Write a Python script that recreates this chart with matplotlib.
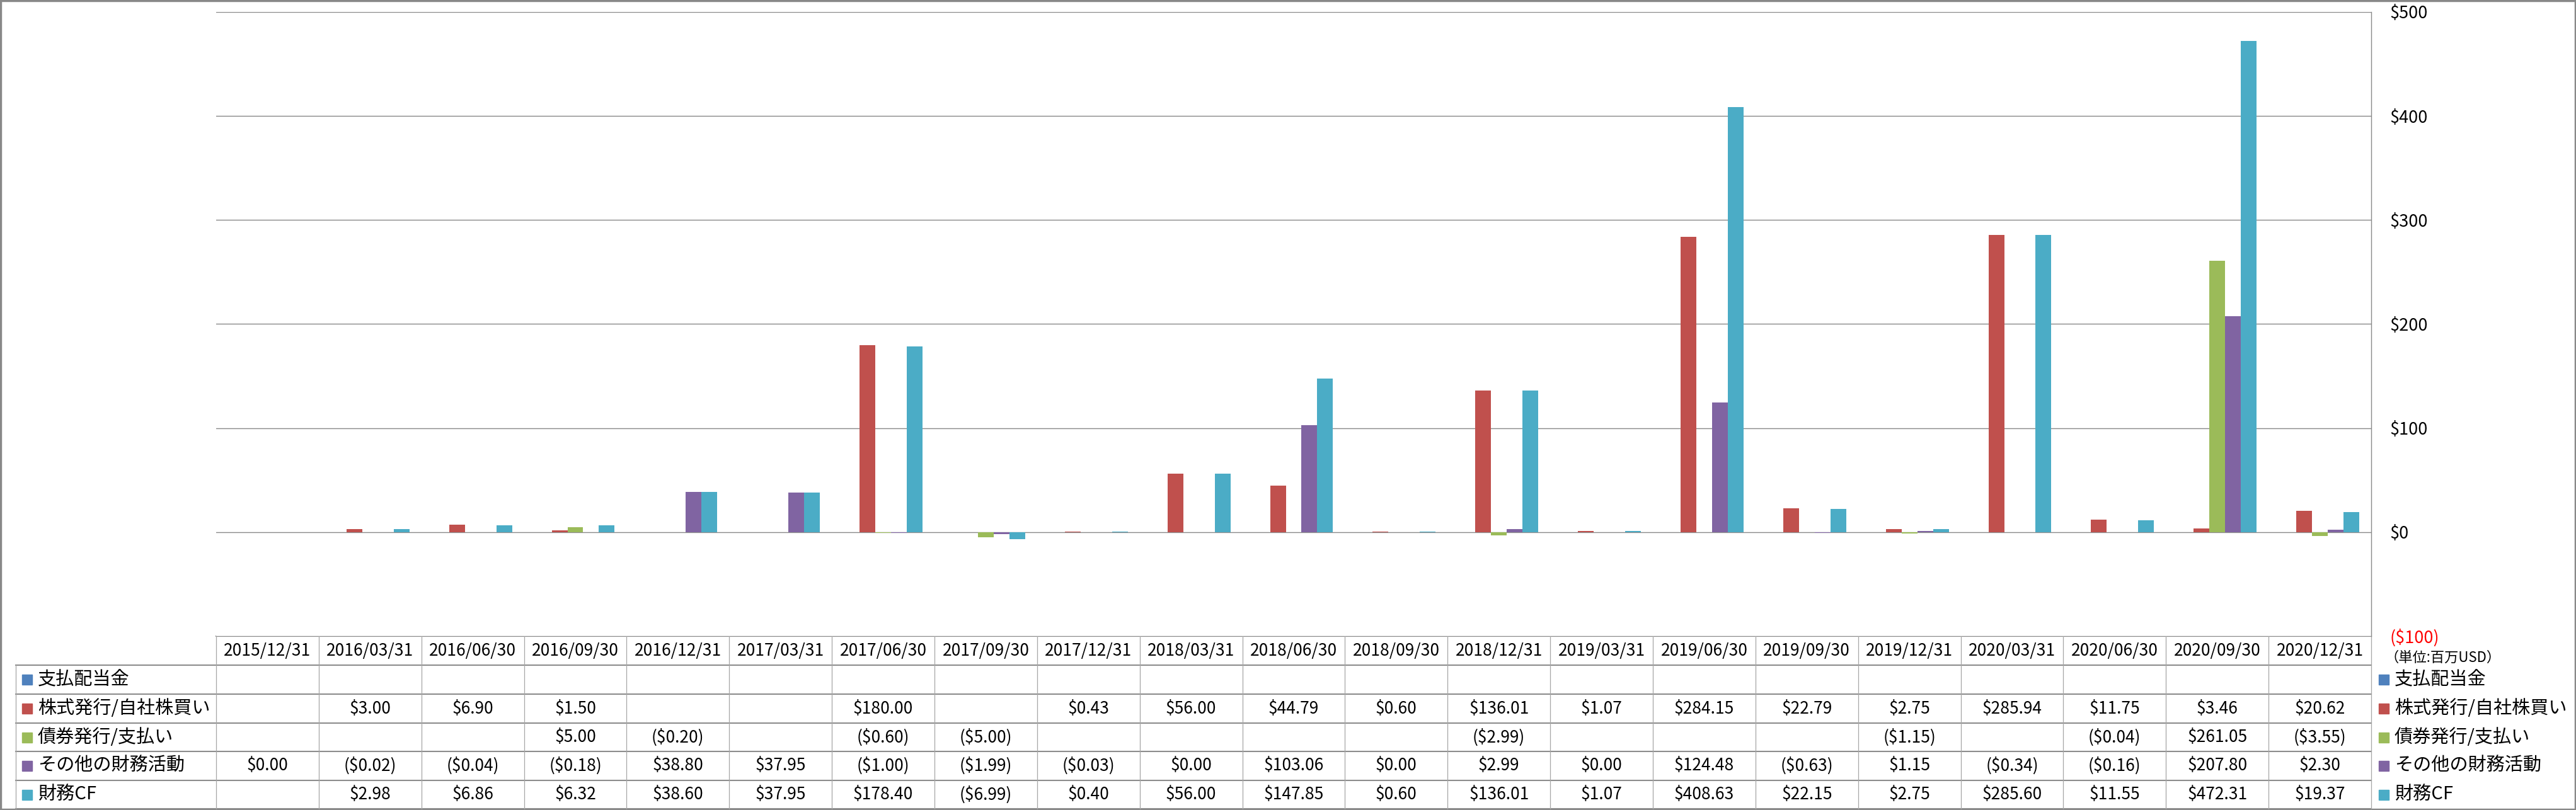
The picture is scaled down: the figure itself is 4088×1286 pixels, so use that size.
import numpy as np
import matplotlib.pyplot as plt
from matplotlib.patches import Rectangle

plt.rcParams['font.family'] = ['Noto Sans CJK JP', 'DejaVu Sans']

nan = np.nan

dates = ['2015/12/31', '2016/03/31', '2016/06/30', '2016/09/30', '2016/12/31',
         '2017/03/31', '2017/06/30', '2017/09/30', '2017/12/31', '2018/03/31',
         '2018/06/30', '2018/09/30', '2018/12/31', '2019/03/31', '2019/06/30',
         '2019/09/30', '2019/12/31', '2020/03/31', '2020/06/30', '2020/09/30',
         '2020/12/31']

names = ['支払配当金', '株式発行/自社株買い', '債券発行/支払い', 'その他の財務活動', '財務CF']
colors = ['#4F81BD', '#C0504D', '#9BBB59', '#8064A2', '#4BACC6']

dividends = [nan] * 21
stock = [nan, 3.00, 6.90, 1.50, nan, nan, 180.00, nan, 0.43, 56.00, 44.79,
         0.60, 136.01, 1.07, 284.15, 22.79, 2.75, 285.94, 11.75, 3.46, 20.62]
debt = [nan, nan, nan, 5.00, -0.20, nan, -0.60, -5.00, nan, nan, nan,
        nan, -2.99, nan, nan, nan, -1.15, nan, -0.04, 261.05, -3.55]
other = [0.00, -0.02, -0.04, -0.18, 38.80, 37.95, -1.00, -1.99, -0.03, 0.00, 103.06,
         0.00, 2.99, 0.00, 124.48, -0.63, 1.15, -0.34, -0.16, 207.80, 2.30]
fcf = [nan, 2.98, 6.86, 6.32, 38.60, 37.95, 178.40, -6.99, 0.40, 56.00, 147.85,
       0.60, 136.01, 1.07, 408.63, 22.15, 2.75, 285.60, 11.55, 472.31, 19.37]
series = [dividends, stock, debt, other, fcf]

yticks = [-100, 0, 100, 200, 300, 400, 500]


def money(v):
    if np.isnan(v):
        return ''
    if v < 0:
        return '(${:,.2f})'.format(-v)
    return '${:,.2f}'.format(v)


def tick_money(v):
    return '(${})'.format(-v) if v < 0 else '${}'.format(v)


W, H = 4088, 1286
fig = plt.figure(figsize=(W / 100, H / 100), dpi=100)

# plot area (pixels)
L, R, T, B = 343, 3763, 19, 1010
ax = fig.add_axes([L / W, 1 - B / H, (R - L) / W, (B - T) / H])

n = len(dates)
x = np.arange(n)
bw = 25 / 163
for i, vals in enumerate(series):
    ax.bar(x + (i - 2) * bw, np.array(vals), bw, color=colors[i], zorder=3)

ax.set_xlim(-0.5, n - 0.5)
ax.set_ylim(-100, 500)
ax.set_xticks([])
ax.set_yticks(yticks)
ax.set_yticklabels([tick_money(v) for v in yticks])
ax.yaxis.tick_right()
ax.tick_params(axis='y', length=0, pad=21, labelsize=19.5)
ax.get_yticklabels()[0].set_color('red')
ax.yaxis.grid(True, color='#888888', lw=1)
ax.set_axisbelow(True)
for s in ['top', 'left', 'bottom']:
    ax.spines[s].set_visible(False)
ax.spines['right'].set_color('#888888')
ax.spines['right'].set_linewidth(1)

# data table below the chart
tab = fig.add_axes([0, 0, 1, 1])
tab.set_xlim(0, W)
tab.set_ylim(H, 0)
tab.axis('off')
tab.set_zorder(-1)

cw = (R - L) / n
rows = [1010, 1056, 1102, 1148, 1193, 1239, 1284]
hcol = '#8c8c8c'
vcol = '#a6a6a6'

tab.plot([L, R], [rows[0], rows[0]], color=hcol, lw=1.5)
for yy in rows[1:]:
    tab.plot([25, R], [yy, yy], color=hcol, lw=1.5)
for k in range(n + 1):
    xx = L + k * cw
    tab.plot([xx, xx], [rows[0], rows[-1]], color=vcol, lw=0.9)
tab.plot([25, 25], [rows[1], rows[-1]], color=vcol, lw=0.9)

for k, d in enumerate(dates):
    tab.text(L + (k + 0.5) * cw, (rows[0] + rows[1]) / 2, d, ha='center', va='center', fontsize=19)

for r, (nm, vals) in enumerate(zip(names, series)):
    yc = (rows[r + 1] + rows[r + 2]) / 2
    tab.add_patch(Rectangle((35, yc - 8), 16, 16, color=colors[r]))
    tab.text(60, yc, nm, ha='left', va='center', fontsize=21)
    for k, v in enumerate(vals):
        tab.text(L + (k + 0.5) * cw, yc, money(v), ha='center', va='center', fontsize=19)
    # legend at right
    tab.add_patch(Rectangle((3775, yc - 8), 16, 16, color=colors[r]))
    tab.text(3800, yc, nm, ha='left', va='center', fontsize=21)

tab.text(3785, 1044, '（単位:百万USD）', ha='left', va='center', fontsize=16)

# outer frame
tab.add_patch(Rectangle((1, 1), W - 2, H - 2, fill=False, edgecolor='#888888', lw=2.5))

fig.savefig('out.png', dpi=100)
